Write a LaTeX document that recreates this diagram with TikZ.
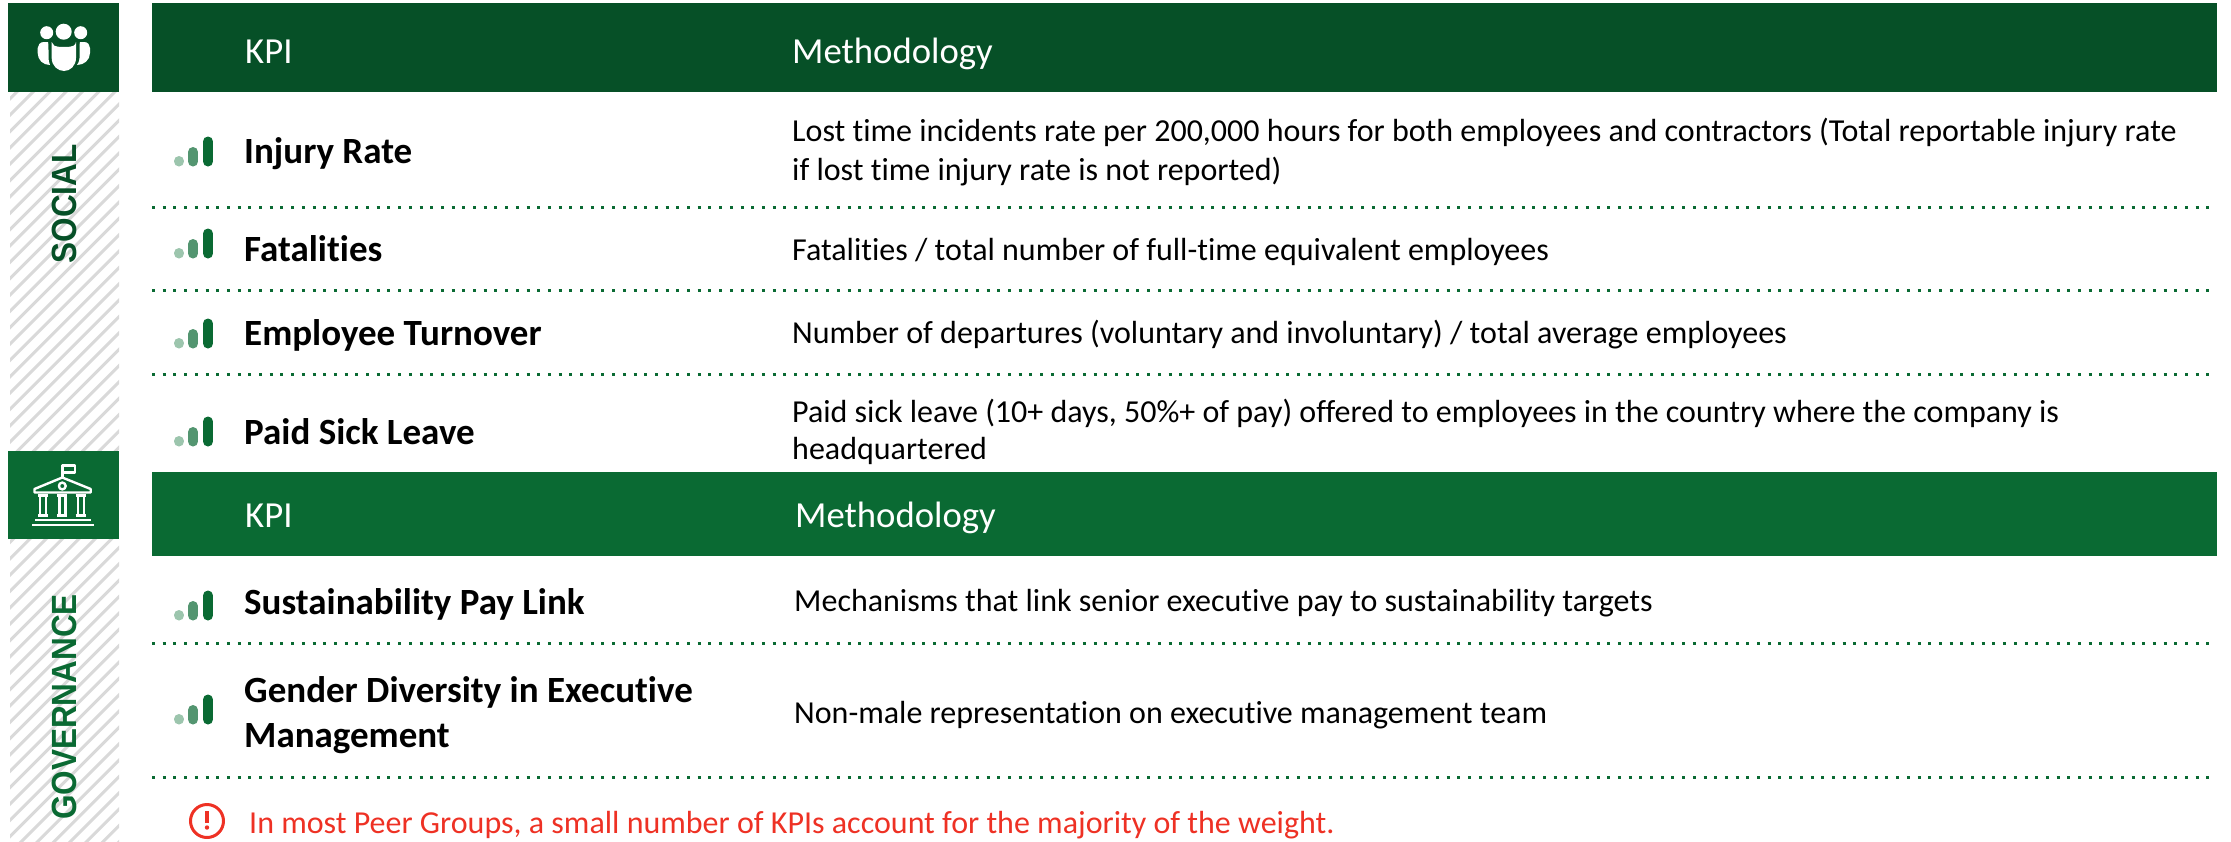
\documentclass[tikz,border=0pt]{standalone}
\usepackage{fontspec}
\setmainfont{Carlito}[Ligatures=NoCommon]
\newfontfamily\arialbold[BoldFont={Liberation Sans Bold}]{Liberation Sans}
\definecolor{darkgrn}{HTML}{065027}
\definecolor{midgrn}{HTML}{0A6A33}
\definecolor{bartwo}{HTML}{539570}
\definecolor{barone}{HTML}{9CC5AD}
\definecolor{hatchgrey}{HTML}{D9D9D9}
\definecolor{warnred}{HTML}{EE3124}
\tikzset{
  x=1pt,y=-1pt,
  hdrtext/.style={anchor=base west,inner sep=0pt,text=white,font=\fontsize{36.7}{42}\selectfont},
  kpitext/.style={anchor=base west,inner sep=0pt,text=black,font=\fontsize{37}{44}\selectfont\bfseries},
  methtext/.style={anchor=base west,inner sep=0pt,text=black,font=\fontsize{32}{39}\selectfont},
  sidetext/.style={anchor=base,inner sep=0pt,rotate=90,font=\fontsize{35}{40}\selectfont\arialbold\bfseries},
  dotline/.style={midgrn,line width=3pt,dash pattern=on 3pt off 7.7pt},
  signalbars/.pic={
    \draw[barone,line width=10pt,line cap=round] (179,-5.5) -- (179,-6);
    \draw[bartwo,line width=10pt,line cap=round] (193,-5.5) -- (193,-15);
    \draw[midgrn,line width=10pt,line cap=round] (208,-5.5) -- (208,-25.5);
  },
}
\begin{document}
\begin{tikzpicture}
\useasboundingbox (0,0) rectangle (2231,841);
% hatched side bands
\begin{scope}
\clip (10,92) rectangle (119,451);
\foreach \k in {0,...,28}{
  \draw[hatchgrey,line width=3pt] (0,108.7+\k*16.35) -- (130,108.7+\k*16.35-130);
}
\end{scope}
\begin{scope}
\clip (10,539) rectangle (119,841);
\foreach \k in {0,...,25}{
  \draw[hatchgrey,line width=3pt] (0,552.3+\k*16.35) -- (130,552.3+\k*16.35-130);
}
\end{scope}
% header bands
\fill[darkgrn] (8,3) rectangle (119,92);
\fill[darkgrn] (152,3) rectangle (2217,92);
\fill[midgrn] (8,451) rectangle (119,539);
\fill[midgrn] (152,472) rectangle (2217,556);
% people icon
\begin{scope}[white]
\fill (63.7,31.7) circle (8);
\fill (46.7,32.7) circle (6.5);
\fill (80.7,32.7) circle (6.5);
\fill (51.7,42) .. controls (53,45) and (53,47) .. (64,47) .. controls (75,47) and (75,45) .. (76,42) -- (76,58) .. controls (76,66) and (70,71) .. (64,71) .. controls (58,71) and (51.7,66) .. (51.7,58) -- cycle;
\fill (44,42) -- (48,42) .. controls (48.5,44) and (48.5,45) .. (48.5,50) -- (48.5,58) .. controls (48.5,60) and (49,62) .. (50,65) .. controls (43,65) and (37.7,60) .. (37.7,53) -- (37.7,48) .. controls (37.7,45) and (40,42) .. (44,42) -- cycle;
\fill (84,42) -- (80,42) .. controls (79.5,44) and (79.5,45) .. (79.5,50) -- (79.5,58) .. controls (79.5,60) and (79,62) .. (77,65) .. controls (84,65) and (90,60) .. (90,53) -- (90,48) .. controls (90,45) and (88,42) .. (84,42) -- cycle;
\end{scope}
% temple icon
\begin{scope}[white,line width=2.4pt,line join=round]
\draw (62.3,478) -- (62.3,465.5) -- (74.7,465.5) -- (74.7,472.5) -- (64,472.5);
\draw (34.5,489) -- (62.3,477.5) -- (90.7,489) -- (90.7,492.5) -- (34.5,492.5) -- cycle;
\draw (62.3,486) circle (3.4);
\foreach \c in {43,62.3,80.7}{
  \draw (\c-5,495.5) -- (\c+5,495.5);
  \draw (\c-3,496) -- (\c-3,515) (\c+3,496) -- (\c+3,515);
  \draw (\c-5,515.5) -- (\c+5,515.5);
}
\draw (35,520) -- (90.7,520);
\draw (32,525) -- (94,525);
\end{scope}
% side labels
\node[sidetext,text=darkgrn] (social) at (76,204) {\scalebox{0.9}[1]{SOCIAL}};
\node[sidetext,text=midgrn] (gov) at (76,707) {\scalebox{0.9}[1]{GOVERNANCE}};
% headers
\node[hdrtext] (kpione) at (245,63) {KPI};
\node[hdrtext] (methone) at (792,63) {Methodology};
\node[hdrtext] (kpitwo) at (245,527) {KPI};
\node[hdrtext] (methtwo) at (795,527) {Methodology};
% dotted separators
\foreach \yy in {207,290,374,643,777}{
  \draw[dotline] (152,\yy) -- (2214,\yy);
}
% rows
\pic at (0,167) {signalbars};
\pic at (0,259) {signalbars};
\pic at (0,349) {signalbars};
\pic at (0,447) {signalbars};
\pic at (0,621) {signalbars};
\pic at (0,725) {signalbars};
\node[kpitext] (k1) at (244,163) {Injury Rate};
\node[kpitext] (k2) at (244,261) {Fatalities};
\node[kpitext] (k3) at (244,345) {Employee Turnover};
\node[kpitext] (k4) at (244,444) {Paid Sick Leave};
\node[kpitext] (k5) at (244,614) {Sustainability Pay Link};
\node[kpitext] (k6) at (244,702) {Gender Diversity in Executive};
\node[kpitext] (k6b) at (244,747) {Management};
\node[methtext] (m1) at (792,141) {Lost time incidents rate per 200,000 hours for both employees and contractors (Total reportable injury rate};
\node[methtext] (m1b) at (792,180) {if lost time injury rate is not reported)};
\node[methtext] (m2) at (792,260) {Fatalities / total number of full-time equivalent employees};
\node[methtext] (m3) at (792,343) {Number of departures (voluntary and involuntary) / total average employees};
\node[methtext] (m4) at (792,422) {Paid sick leave (10+ days, 50\%+ of pay) offered to employees in the country where the company is};
\node[methtext] (m4b) at (792,459) {headquartered};
\node[methtext] (m5) at (794,611) {Mechanisms that link senior executive pay to sustainability targets};
\node[methtext] (m6) at (794,723) {Non-male representation on executive management team};
% warning
\draw[warnred,line width=3pt] (207,821) circle (16.5);
\fill[warnred] (205.3,811) rectangle (208.7,823);
\fill[warnred] (207,827.5) circle (2.2);
\node[anchor=base west,inner sep=0pt,text=warnred,font=\fontsize{32}{35}\selectfont] (warn) at (249,833) {In most Peer Groups, a small number of KPIs account for the majority of the weight.};
\end{tikzpicture}
\end{document}
